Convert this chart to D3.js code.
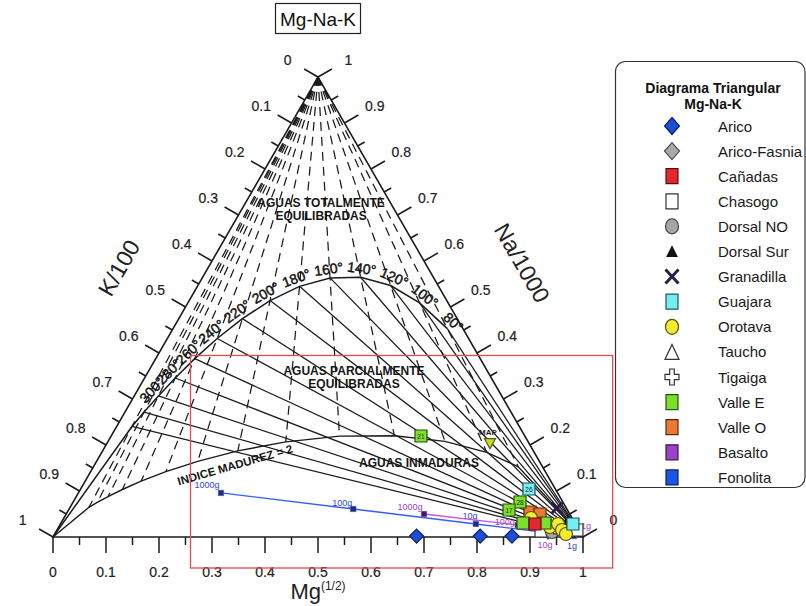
<!DOCTYPE html>
<html>
<head>
<meta charset="utf-8">
<script src="https://cdn.jsdelivr.net/npm/d3@7"></script>
<style>
  body { margin: 0; background: #fff; }
  svg { display: block; font-family: "Liberation Sans", Arial, Helvetica, sans-serif; }
</style>
</head>
<body>
<svg id="chart" width="806" height="606"></svg>
<script>
// ---- Giggenbach Na-K-Mg diagram: values ----
// Geothermometer temperatures (°C) that carry a label on the full-equilibrium curve
const labelledTemps = [300, 280, 260, 240, 220, 200, 180, 160, 140, 120, 100, 80];
// Hotter isotherms drawn without a label
const hotTemps = [340, 320];
// Maturity index of the immature-water boundary
const maturityIndex = 2;

// Axis ticks (every 0.05, labelled every 0.1)
const tickValues = d3.range(0, 21).map(i => i / 20);
const tickLabels = ["0", "0.1", "0.2", "0.3", "0.4", "0.5", "0.6", "0.7", "0.8", "0.9", "1"];

// Samples as relative fractions [K/100, Na/1000, Mg^(1/2)]
const arico       = [[0.313, 0.002, 0.685], [0.193, 0.002, 0.805], [0.133, 0.002, 0.865]];
const aricoFasnia = [[0.0605, 0.0109, 0.9286]];
const canadas     = [[0.0764, 0.0283, 0.8953]];
const chasogo     = [[0.0727, 0.0130, 0.9143], [0.0038, 0.0152, 0.9810]];
const dorsalNO    = [[0.0530, 0.0109, 0.9360]];
const dorsalSur   = [[0.0110, 0.0348, 0.9542]];
const granadilla  = [[0.0176, 0.0630, 0.9194]];
const guajara     = [[0.0498, 0.1043, 0.8459], [0.0049, 0.0283, 0.9668]];
const guajaraIds  = ["26", ""];
const orotava     = [[0.0775, 0.0413, 0.8812], [0.0515, 0.0217, 0.9268], [0.0330, 0.0283, 0.9387],
                     [0.0320, 0.0152, 0.9528], [0.0289, 0.0065, 0.9646]];
const taucho      = [[0.0315, 0.0239, 0.9446]];
const tigaiga     = [[0.0420, 0.0200, 0.9380]];
const valleE      = [[0.1959, 0.2196, 0.5845], [0.0808, 0.0761, 0.8431], [0.1102, 0.0587, 0.8311],
                     [0.0980, 0.0304, 0.8716], [0.0565, 0.0304, 0.9131]];
const valleEIds   = ["21", "28", "17", "", ""];
const valleO      = [[0.0729, 0.0543, 0.8728], [0.0561, 0.0500, 0.8939]];
const mapPoint    = [[0.073, 0.205, 0.722]];

// Isochemical rock dissolution (grams of rock dissolved)
const fonolita       = [[0.635, 0.0957, 0.269], [0.403, 0.0609, 0.536], [0.188, 0.0283, 0.784], [0.016, 0.0022, 0.982]];
const fonolitaLabels = ["1000g", "100g", "10g", "1g"];
const basalto        = [[0.275, 0.050, 0.675], [0.110, 0.026, 0.864], [0.054, 0.0087, 0.937], [0.002, 0.0152, 0.983]];
const basaltoLabels  = ["1000g", "100g", "10g", "1g"];

// Highlighted zoom window, in axis units (Mg axis range, Na axis range)
const windowMg = [0.2594, 1.056];
const windowNa = [-0.0674, 0.3946];

const legendNames = ["Arico", "Arico-Fasnia", "Cañadas", "Chasogo", "Dorsal NO", "Dorsal Sur", "Granadilla",
                     "Guajara", "Orotava", "Taucho", "Tigaiga", "Valle E", "Valle O", "Basalto", "Fonolita"];

// ---- marker styles ----
const styles = {
  "Arico":        { shape: "diamond",  fill: "#1d4fd6", stroke: "#0b1f63" },
  "Arico-Fasnia": { shape: "diamond",  fill: "#a9a9a9", stroke: "#4a4a4a" },
  "Cañadas":      { shape: "square",   fill: "#e5282b", stroke: "#5a0c0c" },
  "Chasogo":      { shape: "square",   fill: "#ffffff", stroke: "#333333" },
  "Dorsal NO":    { shape: "circle",   fill: "#a6a6a6", stroke: "#444444" },
  "Dorsal Sur":   { shape: "triangle", fill: "#111111", stroke: "#111111" },
  "Granadilla":   { shape: "x",        fill: "none",    stroke: "#2a1d4a" },
  "Guajara":      { shape: "square",   fill: "#74eef0", stroke: "#1f5560" },
  "Orotava":      { shape: "circle",   fill: "#f4ec2e", stroke: "#5a5410" },
  "Taucho":       { shape: "triangle", fill: "#ffffff", stroke: "#333333" },
  "Tigaiga":      { shape: "plus",     fill: "#ffffff", stroke: "#333333" },
  "Valle E":      { shape: "square",   fill: "#7ddf2b", stroke: "#2c4f10" },
  "Valle O":      { shape: "square",   fill: "#ec7833", stroke: "#5a2a0c" },
  "Basalto":      { shape: "square",   fill: "#9a42c8", stroke: "#3a1450" },
  "Fonolita":     { shape: "square",   fill: "#1a55e6", stroke: "#0a2266" }
};
const legendSize = {
  diamond: [15, 17], square: [12, 15], circle: [13, 15], triangle: [14, 15], x: [13, 14], plus: [14, 16]
};
const chartSize = {
  diamond: [14, 14], square: [12, 12], circle: [13, 13], triangle: [11, 11], x: [11, 11], plus: [12, 12]
};

// ---- ternary projection ----
const svg = d3.select("#chart");
const xS = d3.scaleLinear().domain([0, 1]).range([53, 583]);   // Mg^(1/2) axis along the base
const yS = d3.scaleLinear().domain([0, 1]).range([537, 77]);   // Na/1000 height
function proj(c) {
  const s = c[0] + c[1] + c[2];
  const na = c[1] / s, mg = c[2] / s;
  return [xS(mg + na / 2), yS(na)];
}
const V_K = [1, 0, 0], V_NA = [0, 1, 0], V_MG = [0, 0, 1];

// Na/K and K/Mg geothermometers (Giggenbach, 1988)
function equilibrium(T) {
  const tk = T + 273.15;
  const naK = Math.pow(10, 1390 / tk - 1.75);
  const k2mg = Math.pow(10, 14.0 - 4410 / tk);
  const Na = 1000, K = Na / naK, Mg = K * K / k2mg;
  return [K / 100, Na / 1000, Math.sqrt(Mg)];
}
// K/Mg isotherm meeting the maturity-index boundary
function maturityPoint(T) {
  const tk = T + 273.15;
  const t = Math.sqrt(Math.pow(10, 14.0 - 4410 / tk)) / 100;
  const n = t * Math.pow(10, maturityIndex - 2.26 - 0.63 * Math.log10(t));
  return [t, n, 1];
}

const allTemps = hotTemps.concat(labelledTemps);
const ink = "#1b1b1b";
const line = d3.line();

const grid = svg.append("g");
// K-Mg isotherms (dashed) from the Na corner down to the maturity line
allTemps.forEach(T => {
  grid.append("path").attr("d", line([proj(V_NA), proj(maturityPoint(T))]))
    .attr("fill", "none").attr("stroke", ink).attr("stroke-width", 1.25)
    .attr("stroke-dasharray", "9,6");
});
// Na-K isotherms (solid) from the equilibrium curve to the Mg corner
allTemps.forEach(T => {
  grid.append("path").attr("d", line([proj(equilibrium(T)), proj(V_MG)]))
    .attr("fill", "none").attr("stroke", ink).attr("stroke-width", 1.25);
});
// Full equilibrium curve
grid.append("path")
  .attr("d", line([V_K].concat(allTemps.map(equilibrium)).map(proj)))
  .attr("fill", "none").attr("stroke", ink).attr("stroke-width", 1.5);
// Immature water boundary
const miPts = [V_K].concat(allTemps.map(maturityPoint)).concat([V_MG]).map(proj);
grid.append("path").attr("d", line(miPts))
  .attr("fill", "none").attr("stroke", ink).attr("stroke-width", 1.4);

// Triangle frame
svg.append("path").attr("d", line([V_K, V_NA, V_MG, V_K].map(proj)) + "Z")
  .attr("fill", "none").attr("stroke", ink).attr("stroke-width", 1.6);

// Axes ticks and labels
const axes = [
  { at: v => [v, 1 - v, 0], normal: [-0.866, -0.5] },   // K/100 on the left side
  { at: v => [0, v, 1 - v], normal: [0.866, -0.5] },    // Na/1000 on the right side
  { at: v => [1 - v, 0, v], normal: [0, 1] }            // Mg^(1/2) along the base
];
const tickG = svg.append("g");
axes.forEach(ax => {
  tickValues.forEach((v, i) => {
    const p = proj(ax.at(v));
    const major = i % 2 === 0;
    const len = major ? 16 : 8;
    tickG.append("line")
      .attr("x1", p[0]).attr("y1", p[1])
      .attr("x2", p[0] + ax.normal[0] * len).attr("y2", p[1] + ax.normal[1] * len)
      .attr("stroke", ink).attr("stroke-width", 1.5);
    if (major) {
      tickG.append("text")
        .attr("x", p[0] + ax.normal[0] * 35).attr("y", p[1] + ax.normal[1] * 35)
        .attr("text-anchor", "middle").attr("dominant-baseline", "central")
        .attr("font-size", 14).attr("fill", "#222")
        .attr("stroke", "#222").attr("stroke-width", 0.2).text(tickLabels[i / 2]);
    }
  });
});

// Axis titles
svg.append("text").attr("transform", "translate(119,268) rotate(-60)")
  .attr("text-anchor", "middle").attr("dominant-baseline", "central")
  .attr("font-size", 23).attr("fill", "#222").text("K/100");
svg.append("text").attr("transform", "translate(522,263) rotate(60)")
  .attr("text-anchor", "middle").attr("dominant-baseline", "central")
  .attr("font-size", 23).attr("fill", "#222").text("Na/1000");
const mgTitle = svg.append("text").attr("x", 318).attr("y", 599)
  .attr("text-anchor", "middle").attr("font-size", 22).attr("fill", "#222");
mgTitle.append("tspan").text("Mg");
mgTitle.append("tspan").attr("font-size", 12).attr("dy", -9).text("(1/2)");

// Temperature labels along the equilibrium curve
const eqPix = allTemps.map(T => proj(equilibrium(T)));
labelledTemps.forEach(T => {
  const i = allTemps.indexOf(T);
  const a = eqPix[Math.max(i - 1, 0)], b = eqPix[Math.min(i + 1, eqPix.length - 1)];
  let tx = b[0] - a[0], ty = b[1] - a[1];
  const L = Math.hypot(tx, ty); tx /= L; ty /= L;
  const nx = ty, ny = -tx;
  const p = eqPix[i];
  const cx = p[0] + nx * 9, cy = p[1] + ny * 9;
  const ang = Math.atan2(ty, tx) * 180 / Math.PI;
  svg.append("text").attr("transform", `translate(${cx},${cy}) rotate(${ang})`)
    .attr("text-anchor", "middle").attr("dominant-baseline", "central")
    .attr("font-size", 14).attr("fill", "#111")
    .attr("stroke", "#111").attr("stroke-width", 0.45).text(T + "°");
});

// Region annotations (positions in ternary fractions)
const regionText = [
  { c: [0.1312, 0.7261, 0.1427], lines: ["AGUAS TOTALMENTE", "EQUILIBRADAS"] },
  { c: [0.2516, 0.3609, 0.3875], lines: ["AGUAS PARCIALMENTE", "EQUILIBRADAS"] },
  { c: [0.2289, 0.1609, 0.6102], lines: ["AGUAS INMADURAS"] }
];
regionText.forEach(r => {
  const p = proj(r.c);
  r.lines.forEach((s, j) => {
    svg.append("text").attr("x", p[0]).attr("y", p[1] + j * 13.5)
      .attr("text-anchor", "middle").attr("dominant-baseline", "central")
      .attr("font-size", 12).attr("font-weight", "bold").attr("fill", "#151515").text(s);
  });
});
{
  const a = proj(maturityPoint(240)), b = proj(maturityPoint(200));
  const ang = Math.atan2(b[1] - a[1], b[0] - a[0]) * 180 / Math.PI;
  const p = proj([0.5784, 0.1565, 0.2651]);
  svg.append("text").attr("transform", `translate(${p[0]},${p[1]}) rotate(${ang})`)
    .attr("text-anchor", "middle").attr("dominant-baseline", "central")
    .attr("font-size", 11.5).attr("font-weight", "bold").attr("fill", "#151515")
    .text("INDICE MADUREZ = 2");
}

// Highlight window
svg.append("rect")
  .attr("x", xS(windowMg[0])).attr("y", yS(windowNa[1]))
  .attr("width", xS(windowMg[1]) - xS(windowMg[0]))
  .attr("height", yS(windowNa[0]) - yS(windowNa[1]))
  .attr("fill", "none").attr("stroke", "#e5484d").attr("stroke-width", 1.3);

// ---- symbols ----
function shapePath(shape, w, h) {
  const a = w / 2, b = h / 2;
  switch (shape) {
    case "diamond": return `M0,${-b}L${a},0L0,${b}L${-a},0Z`;
    case "square": return `M${-a},${-b}H${a}V${b}H${-a}Z`;
    case "triangle": return `M0,${-b}L${a},${b}L${-a},${b}Z`;
    case "triangleDown": return `M${-a},${-b}L${a},${-b}L0,${b}Z`;
    case "x": return `M${-a},${-b}L${a},${b}M${a},${-b}L${-a},${b}`;
    case "plus": {
      const u = w / 6, v = h / 6;
      return `M${-u},${-b}H${u}V${-v}H${a}V${v}H${u}V${b}H${-u}V${v}H${-a}V${-v}H${-u}Z`;
    }
    case "circle": return null;
  }
}
function drawSymbol(g, st, x, y, size) {
  const [w, h] = size;
  if (st.shape === "circle") {
    return g.append("ellipse").attr("cx", x).attr("cy", y).attr("rx", w / 2).attr("ry", h / 2)
      .attr("fill", st.fill).attr("stroke", st.stroke).attr("stroke-width", 1.2);
  }
  return g.append("path").attr("d", shapePath(st.shape, w, h))
    .attr("transform", `translate(${x},${y})`)
    .attr("fill", st.fill).attr("stroke", st.stroke)
    .attr("stroke-width", st.shape === "x" ? 3 : 1.2);
}

// Rock dissolution lines
function rockLine(data, labels, lineColor, ptFill, labelColor, offsets) {
  const pts = data.map(proj);
  svg.append("path").attr("d", line(pts)).attr("fill", "none")
    .attr("stroke", lineColor).attr("stroke-width", 1.3);
  pts.forEach((p, i) => {
    svg.append("rect").attr("x", p[0] - 2.8).attr("y", p[1] - 2.8).attr("width", 5.6).attr("height", 5.6)
      .attr("fill", ptFill).attr("stroke", "#6a6aa0").attr("stroke-width", 0.6);
    svg.append("text").attr("x", p[0] + offsets[i][0]).attr("y", p[1] + offsets[i][1])
      .attr("text-anchor", "middle").attr("dominant-baseline", "central")
      .attr("font-size", 9).attr("fill", labelColor).text(labels[i]);
  });
}
rockLine(fonolita, fonolitaLabels, "#3a5cf5", "#1b2a8c", "#2c46e0", [[-14, -8], [-11, -6], [-6, -8], [-2, 10]]);
rockLine(basalto, basaltoLabels, "#c45ad8", "#4a1566", "#9a44d4", [[-14, -7], [-13, -3], [-7, 12], [8, -4]]);

// Samples
const marks = svg.append("g");
const series = [
  ["Arico-Fasnia", aricoFasnia], ["Chasogo", chasogo], ["Dorsal NO", dorsalNO], ["Taucho", taucho],
  ["Tigaiga", tigaiga], ["Dorsal Sur", dorsalSur], ["Valle O", valleO], ["Orotava", orotava],
  ["Guajara", guajara, guajaraIds], ["Valle E", valleE, valleEIds], ["Cañadas", canadas],
  ["Granadilla", granadilla], ["Arico", arico]
];
series.forEach(([name, data, ids]) => {
  const st = styles[name];
  data.forEach((c, i) => {
    const p = proj(c);
    drawSymbol(marks, st, p[0], p[1], chartSize[st.shape]);
    if (ids && ids[i]) {
      marks.append("text").attr("x", p[0]).attr("y", p[1] + 0.5)
        .attr("text-anchor", "middle").attr("dominant-baseline", "central")
        .attr("font-size", 6.5).attr("fill", "#183010").text(ids[i]);
    }
  });
});
// MAP reference sample
mapPoint.forEach(c => {
  const p = proj(c);
  drawSymbol(marks, { shape: "triangleDown", fill: "#c9dc2a", stroke: "#4a5a10" }, p[0], p[1] + 1, [11, 10]);
  marks.append("text").attr("x", p[0] - 2).attr("y", p[1] - 10)
    .attr("text-anchor", "middle").attr("dominant-baseline", "central")
    .attr("font-size", 8).attr("font-weight", "bold").attr("fill", "#222").text("MAP");
});

// Title
svg.append("rect").attr("x", 275.5).attr("y", 3.5).attr("width", 85).attr("height", 30)
  .attr("fill", "#fff").attr("stroke", "#222").attr("stroke-width", 1.2);
svg.append("text").attr("x", 318).attr("y", 19).attr("text-anchor", "middle")
  .attr("dominant-baseline", "central").attr("font-size", 19).attr("fill", "#111").text("Mg-Na-K");

// Legend
const lg = svg.append("g");
lg.append("rect").attr("x", 615.5).attr("y", 61.5).attr("width", 189.5).attr("height", 426)
  .attr("rx", 10).attr("fill", "#fff").attr("stroke", "#333").attr("stroke-width", 1.2);
lg.append("text").attr("x", 713).attr("y", 88).attr("text-anchor", "middle")
  .attr("dominant-baseline", "central").attr("font-size", 14).attr("font-weight", "bold")
  .attr("fill", "#111").text("Diagrama Triangular");
lg.append("text").attr("x", 713).attr("y", 104).attr("text-anchor", "middle")
  .attr("dominant-baseline", "central").attr("font-size", 14).attr("font-weight", "bold")
  .attr("fill", "#111").text("Mg-Na-K");
legendNames.forEach((name, i) => {
  const y = 126 + i * 25.1;
  const st = styles[name];
  let size = legendSize[st.shape];
  if (name === "Dorsal Sur") size = [10, 10];
  drawSymbol(lg, st, 672, y, size);
  lg.append("text").attr("x", 718).attr("y", y).attr("dominant-baseline", "central")
    .attr("font-size", 15).attr("fill", "#1a1a1a").text(name);
});
</script>
</body>
</html>
